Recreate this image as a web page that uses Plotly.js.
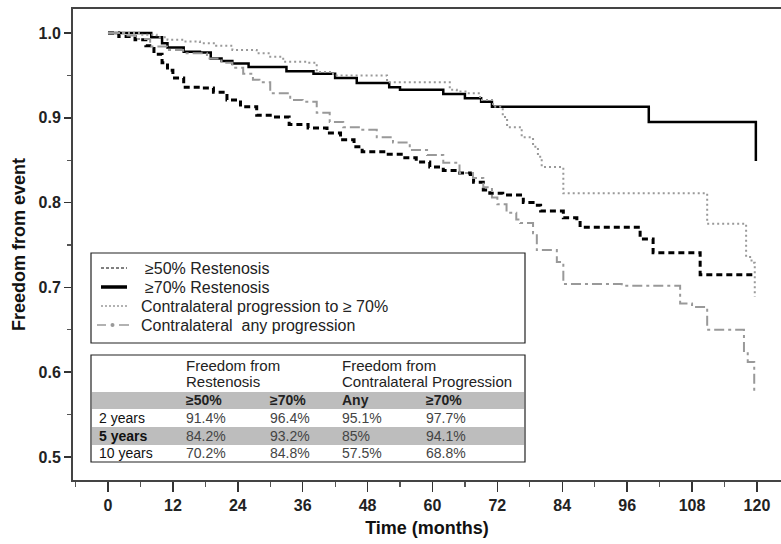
<!DOCTYPE html>
<html><head><meta charset="utf-8">
<script src="https://cdn.plot.ly/plotly-3.0.1.min.js"></script>
<style>html,body{margin:0;padding:0;background:#fff}</style>
</head><body><div id="chart" style="width:781px;height:544px"></div>
<script>
// ---- data ----
const seriesNames = ["≥50% Restenosis", "≥70% Restenosis", "Contralateral progression to ≥ 70%", "Contralateral  any progression"];

const monthsRest50 = [0, 2, 5, 7, 8.5, 10, 11, 12, 14, 17, 19.5, 22, 24.5, 27.5, 30, 33.5, 37, 40.5, 43, 45.5, 47, 51, 54.5, 57, 59.5, 62, 64.5, 67, 67.6, 69.4, 70.6, 73, 76.8, 78.6, 80, 84.2, 86.7, 87.3, 98.4, 100.8, 109.5, 119.6];
const survRest50   = [1.0, 0.996, 0.992, 0.985, 0.975, 0.965, 0.956, 0.947, 0.936, 0.935, 0.930, 0.921, 0.913, 0.903, 0.901, 0.892, 0.888, 0.882, 0.874, 0.866, 0.860, 0.857, 0.853, 0.848, 0.842, 0.838, 0.835, 0.833, 0.824, 0.815, 0.811, 0.809, 0.800, 0.797, 0.790, 0.782, 0.779, 0.771, 0.757, 0.741, 0.715, 0.715];

const monthsRest70 = [0, 8, 10, 11, 14, 17, 19, 21, 23, 26, 33, 38, 42, 46, 52, 54, 62, 66, 69, 71, 100, 119.8];
const survRest70   = [1.0, 0.995, 0.988, 0.983, 0.978, 0.977, 0.970, 0.967, 0.964, 0.960, 0.955, 0.952, 0.947, 0.941, 0.936, 0.933, 0.928, 0.923, 0.919, 0.913, 0.895, 0.849];

const monthsContra70 = [0, 6, 9, 11, 14, 17, 20, 23, 27.5, 30, 32.4, 36.8, 38.6, 41.6, 51.6, 63.2, 64.5, 66.4, 68.8, 71.2, 73, 73.8, 76.5, 78.6, 79.5, 80.2, 84.2, 110.8, 118, 119, 119.6];
const survContra70   = [1.0, 0.998, 0.995, 0.992, 0.990, 0.988, 0.985, 0.980, 0.976, 0.972, 0.966, 0.965, 0.954, 0.950, 0.942, 0.933, 0.931, 0.929, 0.921, 0.913, 0.901, 0.889, 0.877, 0.866, 0.854, 0.842, 0.811, 0.775, 0.736, 0.729, 0.689];

const monthsContraAny = [0, 3, 5, 7.8, 10.9, 13.9, 18.3, 21, 23, 25, 26.8, 28, 30, 33.7, 36, 38.6, 41, 43.5, 46.6, 49.7, 52.7, 55.8, 59, 62, 65, 67.5, 69.4, 71, 72, 73.7, 75.5, 76.2, 78.6, 79.3, 83, 84.2, 95, 105.8, 108, 110.8, 117.6, 118.3, 119.5];
const survContraAny   = [1.0, 0.997, 0.993, 0.984, 0.980, 0.976, 0.970, 0.965, 0.959, 0.952, 0.945, 0.942, 0.929, 0.921, 0.919, 0.906, 0.895, 0.889, 0.886, 0.877, 0.871, 0.862, 0.856, 0.847, 0.835, 0.829, 0.818, 0.806, 0.798, 0.788, 0.780, 0.776, 0.764, 0.744, 0.730, 0.704, 0.702, 0.681, 0.677, 0.650, 0.625, 0.612, 0.575];

const xTickVals = [0, 12, 24, 36, 48, 60, 72, 84, 96, 108, 120];
const yTickVals = [0.5, 0.6, 0.7, 0.8, 0.9, 1.0];
const yTickText = ["0.5", "0.6", "0.7", "0.8", "0.9", "1.0"];

const tableGroupHeaders = [["Freedom from", "Restenosis"], ["Freedom from", "Contralateral Progression"]];
const tableColLabels = ["≥50%", "≥70%", "Any", "≥70%"];
const tableRowLabels = ["2 years", "5 years", "10 years"];
const tableValues = [
  ["91.4%", "96.4%", "95.1%", "97.7%"],
  ["84.2%", "93.2%", "85%", "94.1%"],
  ["70.2%", "84.8%", "57.5%", "68.8%"]
];

// ---- geometry helpers (pixel -> paper) ----
const L = 73, R = 781, T = 9, B = 480;
const px = v => (v - L) / (R - L);
const py = v => (B - v) / (B - T);
const FONT = "Liberation Sans, Arial, Helvetica, sans-serif";

const styles = [
  {color: "#000", width: 3, dash: "6px,4px"},
  {color: "#000", width: 2.5},
  {color: "#999", width: 2, dash: "2px,3px"},
  {color: "#999", width: 2, dash: "10px,4px,3px,4px"}
];
const traces = [
  {x: monthsRest50, y: survRest50, name: seriesNames[0], mode: "lines", line: Object.assign({shape: "hv"}, styles[0])},
  {x: monthsRest70, y: survRest70, name: seriesNames[1], mode: "lines", line: Object.assign({shape: "hv"}, styles[1])},
  {x: monthsContra70, y: survContra70, name: seriesNames[2], mode: "lines", line: Object.assign({shape: "hv"}, styles[2])},
  {x: monthsContraAny, y: survContraAny, name: seriesNames[3], mode: "lines", line: Object.assign({shape: "hv"}, styles[3])}
];

const shapes = [];
const annotations = [];
function txt(t, x, y, font) {
  annotations.push({text: t, xref: "paper", yref: "paper", x: px(x), y: py(y), xanchor: "left", yanchor: "middle", showarrow: false, font: font});
}
function hline(x0, x1, y, line) {
  shapes.push({type: "line", xref: "paper", yref: "paper", x0: px(x0), x1: px(x1), y0: py(y), y1: py(y), line: line, layer: "above"});
}

// legend box + entries
shapes.push({type: "rect", xref: "paper", yref: "paper", x0: px(91), x1: px(525), y0: py(253), y1: py(343), line: {color: "#222", width: 1.2}, fillcolor: "#fff", layer: "above"});
const legY = [268, 287, 306, 325];
const legTextX = [143, 143, 139, 139];
const legSample = [
  {color: "#000", width: 1, dash: "3px,2px"},
  {color: "#000", width: 3.5},
  {color: "#999", width: 1.5, dash: "2px,2px"},
  {color: "#999", width: 1.5}
];
const legFont = {family: FONT, size: 16, color: "#222"};
seriesNames.forEach((n, i) => {
  if (i < 3) {
    hline(101, 127, legY[i], legSample[i]);
  } else {
    hline(97, 106, legY[i], legSample[i]);
    hline(119, 129, legY[i], legSample[i]);
    shapes.push({type: "circle", xref: "paper", yref: "paper", x0: px(110.5), x1: px(114.5), y0: py(legY[i] - 2), y1: py(legY[i] + 2), line: {width: 0}, fillcolor: "#999", layer: "above"});
  }
  txt(n.replace("  ", "&nbsp; "), legTextX[i], legY[i], legFont);
});

// table box
shapes.push({type: "rect", xref: "paper", yref: "paper", x0: px(91), x1: px(525), y0: py(355), y1: py(462), line: {color: "#222", width: 1.2}, fillcolor: "#fff", layer: "above"});
shapes.push({type: "rect", xref: "paper", yref: "paper", x0: px(92), x1: px(524), y0: py(392), y1: py(409), line: {width: 0}, fillcolor: "#bdbdbd", layer: "above"});
shapes.push({type: "rect", xref: "paper", yref: "paper", x0: px(92), x1: px(524), y0: py(427), y1: py(445), line: {width: 0}, fillcolor: "#bdbdbd", layer: "above"});

const colX = [184, 268, 340, 424];
const groupX = [184, 340];
const rowY = [418, 436, 453];
const tfont = (c, w, s) => ({family: FONT, size: s || 14, color: c, weight: w || "normal"});
tableGroupHeaders.forEach((g, i) => { txt(g[0], groupX[i], 365, tfont("#222", "normal", 15)); txt(g[1], groupX[i], 381, tfont("#222", "normal", 15)); });
tableColLabels.forEach((c, i) => txt(c, colX[i], 400, tfont("#222", "bold")));
tableRowLabels.forEach((r, j) => {
  txt(r, 97, rowY[j], tfont("#111", j === 1 ? "bold" : "normal"));
  tableValues[j].forEach((v, i) => txt(v, colX[i], rowY[j], tfont("#444")));
});

const layout = {
  width: 781, height: 544,
  margin: {l: L, r: 781 - R, t: T, b: 544 - B},
  paper_bgcolor: "#fff", plot_bgcolor: "#fff",
  font: {family: FONT, color: "#222"},
  showlegend: false,
  xaxis: {range: [-6.47, 124.45], tickvals: xTickVals, ticks: "outside", ticklen: 10, tickwidth: 1.5, tickcolor: "#333",
          minor: {dtick: 6, tick0: 0, ticks: "outside", ticklen: 5, tickwidth: 1.2, tickcolor: "#555"},
          showline: true, linecolor: "#444", linewidth: 2, mirror: true, showgrid: false, zeroline: false,
          tickfont: {family: FONT, size: 16, color: "#222", weight: "bold"},
          title: {text: "Time (months)", font: {family: FONT, size: 18, color: "#111", weight: "bold"}, standoff: 8}},
  yaxis: {range: [0.4729, 1.0283], tickvals: yTickVals, ticktext: yTickText, ticks: "outside", ticklen: 7, tickwidth: 1.5, tickcolor: "#333",
          minor: {dtick: 0.05, tick0: 0.5, ticks: "outside", ticklen: 4, tickwidth: 1.2, tickcolor: "#555"},
          showline: true, linecolor: "#444", linewidth: 2, mirror: false, showgrid: false, zeroline: false,
          tickfont: {family: FONT, size: 16, color: "#222", weight: "bold"},
          title: {text: "Freedom from event", font: {family: FONT, size: 18, color: "#111", weight: "bold"}, standoff: 8}},
  shapes: shapes,
  annotations: annotations
};

Plotly.newPlot("chart", traces, layout, {staticPlot: true, displayModeBar: false});
</script>
</body></html>
